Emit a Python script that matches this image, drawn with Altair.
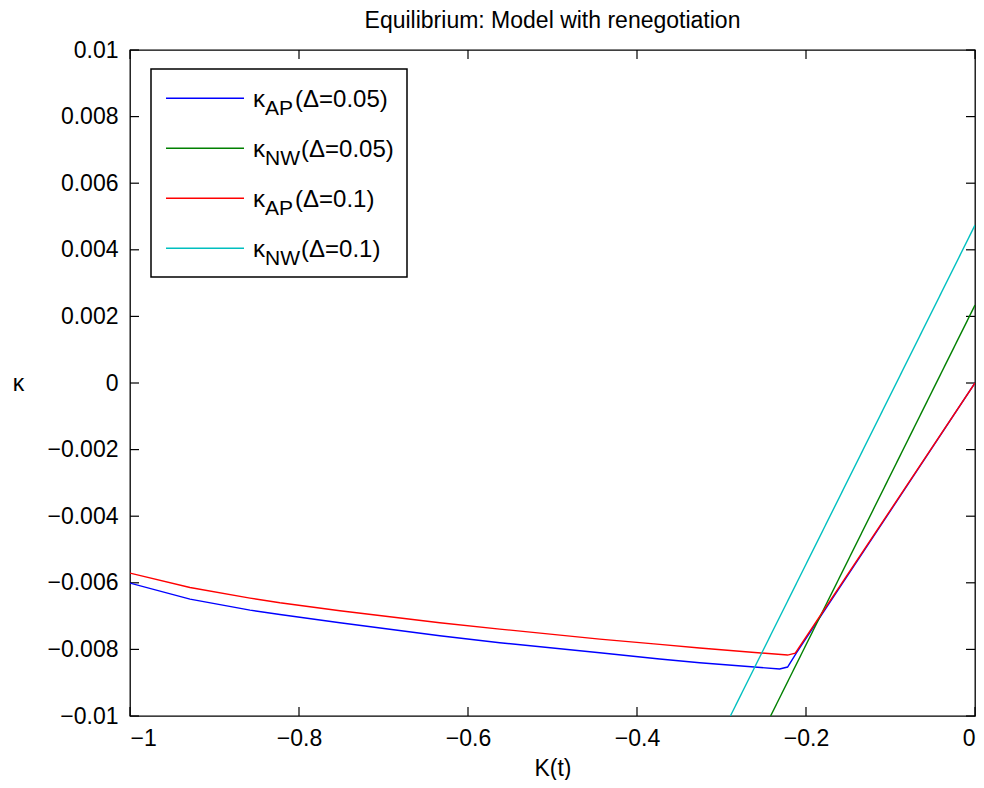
import altair as alt
import pandas as pd

# ---- data ----
x_ap_005 = [-1.0, -0.929, -0.858, -0.8226, -0.7516, -0.6334, -0.5624, -0.4441, -0.3732, -0.3258, -0.2312, -0.2218, -0.2115, 0.0]
y_ap_005 = [-0.00601, -0.00649, -0.00682, -0.00695, -0.00720, -0.00759, -0.00780, -0.00810, -0.00829, -0.00840, -0.00859, -0.00853, -0.00811, 0.0]

x_ap_01 = [-1.0, -0.929, -0.858, -0.8226, -0.7516, -0.6334, -0.5624, -0.4441, -0.3732, -0.3258, -0.2218, -0.2127, 0.0]
y_ap_01 = [-0.00571, -0.00614, -0.00646, -0.00660, -0.00684, -0.00720, -0.00739, -0.00769, -0.00785, -0.00796, -0.00817, -0.00811, 0.0]

x_nw_005 = [-0.2419, 0.0]
y_nw_005 = [-0.01, 0.00234]

x_nw_01 = [-0.2895, 0.0]
y_nw_01 = [-0.01, 0.00474]

series_colors = ["#0000FF", "#008000", "#FF0000", "#00BFBF"]
legend_sub = ["AP", "NW", "AP", "NW"]
legend_delta = ["(\u0394=0.05)", "(\u0394=0.05)", "(\u0394=0.1)", "(\u0394=0.1)"]

x_ticks = [-1.0, -0.8, -0.6, -0.4, -0.2, 0.0]
y_ticks = [-0.01, -0.008, -0.006, -0.004, -0.002, 0.0, 0.002, 0.004, 0.006, 0.008, 0.01]

title_text = "Equilibrium: Model with renegotiation"
x_title = "K(t)"
y_title = "\u03ba"

FONT = "Liberation Sans"
W, H = 845, 666

xs = alt.Scale(domain=[-1, 0], nice=False, zero=False)
ys = alt.Scale(domain=[-0.01, 0.01], nice=False, zero=False)

x_axis = alt.Axis(values=x_ticks, format=".1~f", title=x_title, labelPadding=11,
                  titleFont=FONT, titleFontSize=23, titleFontWeight="normal",
                  titleBaseline="alphabetic", titleY=59, titleX=W / 2)
y_axis = alt.Axis(values=y_ticks, format=".3~f", title=y_title, labelPadding=12,
                  titleFont=FONT, titleFontSize=23, titleFontWeight="normal",
                  titleAngle=0, titleAlign="center", titleBaseline="middle",
                  titleX=-112, titleY=H / 2)


def line_layer(xv, yv, color):
    df = pd.DataFrame({"K": xv, "kappa": yv, "i": list(range(len(xv)))})
    return alt.Chart(df).mark_line(color=color, strokeWidth=1.4, clip=True).encode(
        x=alt.X("K:Q", scale=xs, axis=x_axis),
        y=alt.Y("kappa:Q", scale=ys, axis=y_axis),
        order="i:Q",
    )


df_xt = pd.DataFrame({"v": x_ticks})
df_yt = pd.DataFrame({"v": y_ticks})
TL = 9
tick_layers = [
    alt.Chart(df_xt).mark_rule(color="black", strokeWidth=1.2).encode(
        x=alt.X("v:Q", scale=xs, axis=x_axis), y=alt.value(H), y2=alt.value(H - TL)),
    alt.Chart(df_xt).mark_rule(color="black", strokeWidth=1.2).encode(
        x=alt.X("v:Q", scale=xs, axis=x_axis), y=alt.value(0), y2=alt.value(TL)),
    alt.Chart(df_yt).mark_rule(color="black", strokeWidth=1.2).encode(
        y=alt.Y("v:Q", scale=ys, axis=y_axis), x=alt.value(0), x2=alt.value(TL)),
    alt.Chart(df_yt).mark_rule(color="black", strokeWidth=1.2).encode(
        y=alt.Y("v:Q", scale=ys, axis=y_axis), x=alt.value(W), x2=alt.value(W - TL)),
]

lines = [
    line_layer(x_ap_005, y_ap_005, series_colors[0]),
    line_layer(x_nw_005, y_nw_005, series_colors[1]),
    line_layer(x_ap_01, y_ap_01, series_colors[2]),
    line_layer(x_nw_01, y_nw_01, series_colors[3]),
]

one = pd.DataFrame({"a": [0]})
legend_layers = [
    alt.Chart(one).mark_rect(fill="white", stroke="black", strokeWidth=1.5).encode(
        x=alt.value(21), x2=alt.value(277), y=alt.value(19), y2=alt.value(227))
]
row_y = [48.3, 98.3, 148.3, 198.3]
for i in range(4):
    ry = row_y[i]
    sub = legend_sub[i]
    paren_x = 165 if sub == "AP" else 171
    legend_layers.append(
        alt.Chart(one).mark_rule(color=series_colors[i], strokeWidth=1.4).encode(
            x=alt.value(36), x2=alt.value(114), y=alt.value(ry)))
    legend_layers.append(
        alt.Chart(pd.DataFrame({"t": [y_title]})).mark_text(
            font=FONT, fontSize=24, align="left", baseline="alphabetic", color="black").encode(
            text="t:N", x=alt.value(123), y=alt.value(ry + 8.4)))
    legend_layers.append(
        alt.Chart(pd.DataFrame({"t": [sub]})).mark_text(
            font=FONT, fontSize=21, align="left", baseline="alphabetic", color="black").encode(
            text="t:N", x=alt.value(135), y=alt.value(ry + 16.7)))
    legend_layers.append(
        alt.Chart(pd.DataFrame({"t": [legend_delta[i]]})).mark_text(
            font=FONT, fontSize=24, align="left", baseline="alphabetic", color="black").encode(
            text="t:N", x=alt.value(paren_x), y=alt.value(ry + 8.4)))

title_layer = alt.Chart(pd.DataFrame({"t": [title_text]})).mark_text(
    font=FONT, fontSize=23, align="center", baseline="alphabetic", color="black").encode(
    text="t:N", x=alt.value(W / 2), y=alt.value(-22))

chart = alt.layer(*tick_layers, *lines, *legend_layers, title_layer).properties(
    width=W, height=H,
    autosize=alt.AutoSizeParams(type="none"),
    padding={"left": 122, "top": 42, "right": 1, "bottom": 64},
).configure_view(
    stroke="black", strokeWidth=1.3
).configure_axis(
    domain=False, grid=False, ticks=False, tickSize=0,
    labelFont=FONT, labelFontSize=23, labelColor="black", titleColor="black",
)

chart.save("out.html", embed_options={"renderer": "svg", "actions": False})
